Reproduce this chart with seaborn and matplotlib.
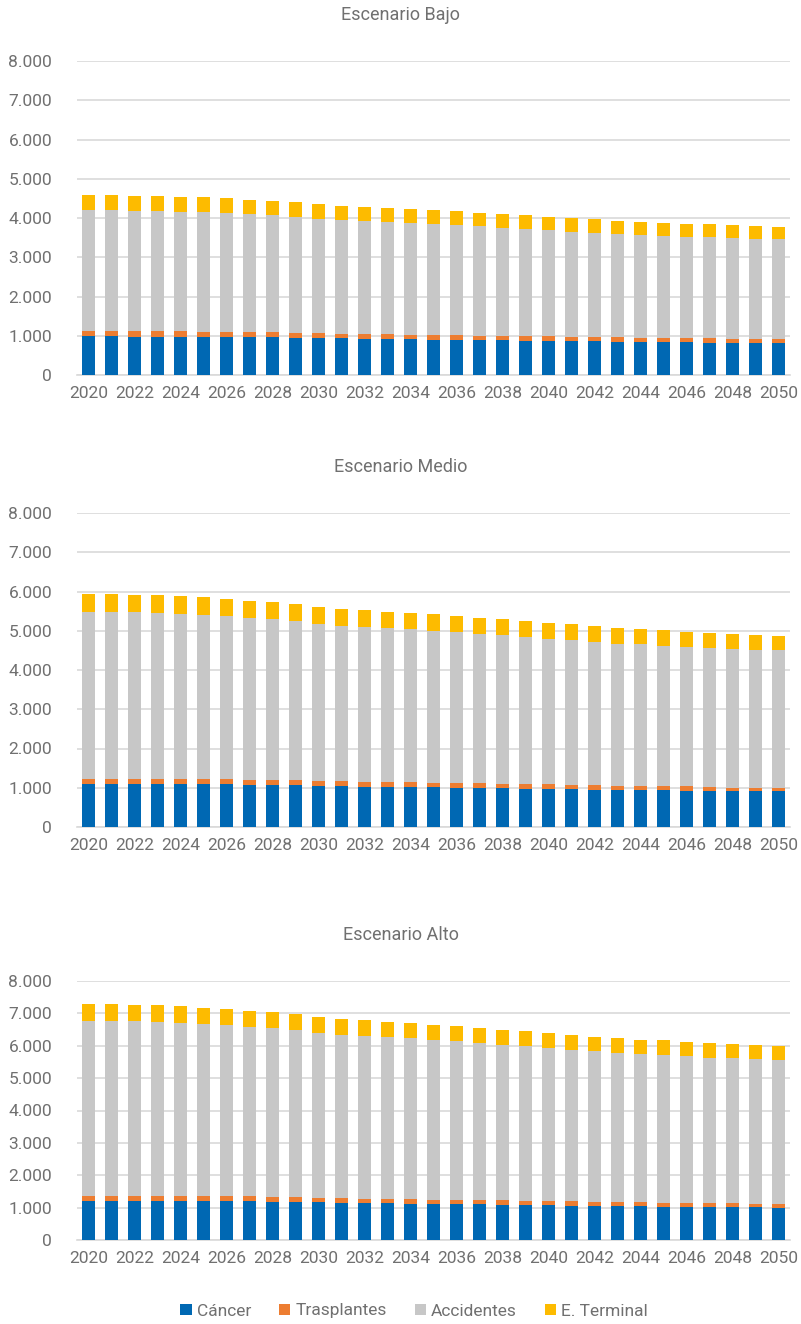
import numpy as np
import pandas as pd
import matplotlib.pyplot as plt
import seaborn as sns
from matplotlib.patches import Patch
from matplotlib.ticker import FuncFormatter, MultipleLocator

years = [str(y) for y in range(2020, 2051)]
categories = ["Cáncer", "Trasplantes", "Accidentes", "E. Terminal"]
colors = ["#0068B3", "#ED7D31", "#C7C7C7", "#FDBB00"]

# Escenario Bajo
bajo_cancer = [985, 985, 975, 975, 975, 975, 975, 975, 960, 950, 950, 930, 925, 925, 905, 900,
               900, 900, 890, 875, 875, 865, 855, 850, 845, 845, 830, 825, 820, 820, 820]
bajo_trasp = [135, 135, 140, 140, 140, 130, 130, 130, 140, 125, 120, 120, 125, 120, 120, 125,
              125, 105, 110, 125, 125, 110, 120, 125, 105, 105, 120, 110, 105, 105, 105]
bajo_accid = [3085, 3085, 3075, 3065, 3050, 3040, 3015, 2990, 2965, 2950, 2905, 2900, 2865, 2850, 2840, 2820,
              2790, 2780, 2755, 2710, 2685, 2680, 2645, 2625, 2625, 2600, 2575, 2575, 2570, 2550, 2535]
bajo_term = [390, 390, 380, 380, 380, 380, 380, 375, 375, 375, 370, 365, 365, 355, 355, 350,
             355, 355, 350, 355, 350, 345, 345, 330, 325, 330, 330, 330, 325, 320, 320]

# Escenario Medio
medio_cancer = [1095, 1095, 1095, 1095, 1095, 1095, 1095, 1070, 1060, 1060, 1040, 1040, 1025, 1015, 1015, 1010,
                990, 990, 985, 975, 965, 960, 950, 940, 940, 940, 915, 915, 905, 905, 905]
medio_trasp = [125, 125, 125, 120, 120, 120, 120, 140, 135, 125, 120, 120, 120, 120, 120, 105,
               120, 120, 110, 110, 120, 100, 110, 110, 95, 95, 120, 100, 100, 100, 100]
medio_accid = [4255, 4255, 4255, 4245, 4220, 4185, 4150, 4110, 4095, 4060, 4015, 3965, 3950, 3930, 3900, 3890,
               3855, 3815, 3795, 3755, 3710, 3705, 3660, 3625, 3620, 3585, 3560, 3540, 3535, 3510, 3500]
medio_term = [450, 450, 440, 450, 450, 450, 440, 450, 440, 430, 430, 430, 430, 425, 425, 425,
              415, 405, 405, 405, 405, 400, 390, 400, 390, 390, 380, 390, 380, 380, 365]

# Escenario Alto
alto_cancer = [1215, 1215, 1215, 1215, 1215, 1215, 1215, 1195, 1185, 1185, 1160, 1150, 1150, 1140, 1120, 1120,
               1120, 1110, 1090, 1080, 1080, 1060, 1050, 1050, 1050, 1030, 1030, 1020, 1020, 1010, 1000]
alto_trasp = [145, 145, 145, 145, 145, 145, 145, 160, 140, 140, 135, 145, 115, 125, 135, 115,
              115, 125, 135, 125, 125, 135, 125, 125, 115, 115, 115, 115, 115, 115, 115]
alto_accid = [5415, 5415, 5405, 5385, 5355, 5315, 5275, 5220, 5210, 5160, 5110, 5045, 5035, 4995, 4985, 4945,
              4900, 4850, 4810, 4780, 4730, 4685, 4655, 4615, 4585, 4565, 4535, 4500, 4480, 4460, 4450]
alto_term = [515, 515, 505, 515, 505, 505, 505, 505, 495, 495, 485, 485, 485, 475, 465, 475,
             465, 475, 465, 465, 460, 465, 450, 450, 440, 455, 440, 455, 430, 430, 420]

scenarios = [
    ("Escenario Bajo", [bajo_cancer, bajo_trasp, bajo_accid, bajo_term]),
    ("Escenario Medio", [medio_cancer, medio_trasp, medio_accid, medio_term]),
    ("Escenario Alto", [alto_cancer, alto_trasp, alto_accid, alto_term]),
]

# axes boxes in pixels: (8000 line, zero line)
W, H = 801, 1324
boxes = [(61, 375), (513, 827), (981, 1240)]
title_y = [15, 467, 935]
x0, x1 = 77, 790

text_col = "#707070"
grid_col = "#D9D9D9"

sns.set_theme(style="white")
plt.rcParams["font.family"] = ["Roboto", "DejaVu Sans"]

fig = plt.figure(figsize=(W / 100, H / 100), dpi=100)

fmt = FuncFormatter(lambda v, p: f"{int(v):,}".replace(",", "."))

for (title, series), (top, zero), ty in zip(scenarios, boxes, title_y):
    ax = fig.add_axes([x0 / W, 1 - zero / H, (x1 - x0) / W, (zero - top) / H])
    bottom = np.zeros(len(years))
    for name, vals, col in zip(categories, series, colors):
        df = pd.DataFrame({"year": years, "value": vals})
        sns.barplot(data=df, x="year", y="value", color=col, bottom=bottom,
                    width=0.58, saturation=1, ax=ax, linewidth=0, zorder=3)
        bottom = bottom + np.array(vals)

    ax.set_ylim(0, 8000)
    ax.set_xlim(-0.5, len(years) - 0.5)
    ax.yaxis.set_major_locator(MultipleLocator(1000))
    ax.yaxis.set_major_formatter(fmt)
    ax.grid(axis="y", color=grid_col, linewidth=1.2, zorder=0)
    ax.set_axisbelow(True)
    ax.set_xticks(range(0, len(years), 2))
    ax.set_xticklabels(years[::2])
    ax.set_xlabel("")
    ax.set_ylabel("")
    for s in ["top", "right", "left"]:
        ax.spines[s].set_visible(False)
    ax.spines["bottom"].set_color(grid_col)
    ax.spines["bottom"].set_linewidth(1.2)
    ax.tick_params(axis="both", length=0, labelsize=12.5, labelcolor=text_col)
    ax.tick_params(axis="x", pad=8)
    ax.tick_params(axis="y", pad=18)

    fig.text(0.5, 1 - ty / H, title, ha="center", va="center", fontsize=13, color=text_col)

handles = [Patch(facecolor=c, edgecolor="none") for c in colors]
fig.legend(handles, categories, loc="center", bbox_to_anchor=(0.517, 1 - 1311 / H),
           ncol=4, frameon=False, fontsize=12.5, labelcolor=text_col,
           handlelength=0.65, handleheight=0.65, handletextpad=0.3, columnspacing=1.6)

fig.savefig("out.png", dpi=100)
